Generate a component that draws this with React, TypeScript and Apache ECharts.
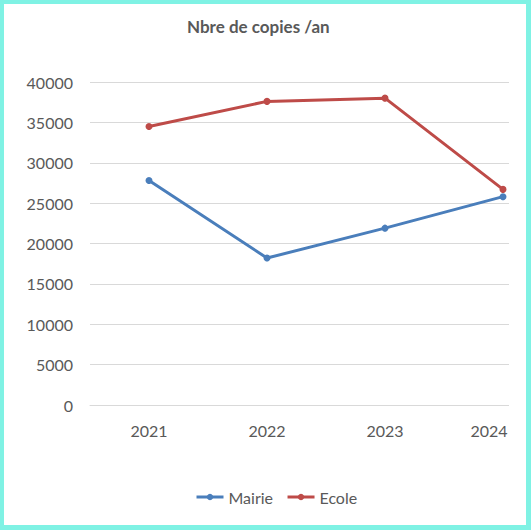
import React, { useEffect, useRef } from "react";
import * as echarts from "echarts";

const categories = ["2021", "2022", "2023", "2024"];
const mairie = [27800, 18200, 21900, 25800];
const ecole = [34500, 37600, 38000, 26700];
const yTicks = { min: 0, max: 40000, interval: 5000 };

const FONT = "Lato, 'Open Sans', sans-serif";
const TXT = "#595959";
const CYAN = "#7ff2e4";

export default function App() {
  const ref = useRef<HTMLDivElement>(null);
  useEffect(() => {
    const chart = echarts.init(ref.current!, null, { renderer: "svg" });
    chart.setOption({
      animation: false,
      backgroundColor: "#ffffff",
      title: {
        text: "Nbre de copies /an",
        left: 182,
        top: 13,
        textStyle: { fontFamily: FONT, fontSize: 17, fontWeight: "bold", color: TXT },
      },
      legend: {
        left: 190,
        top: 484,
        itemWidth: 27,
        itemHeight: 8,
        itemGap: 13,
        lineStyle: { width: 3 },
        textStyle: { fontFamily: FONT, fontSize: 16, color: TXT },
        data: ["Mairie", "Ecole"],
      },
      grid: {
        left: 90,
        top: 82,
        width: 472,
        height: 323,
        containLabel: false,
        outerBoundsMode: "none",
      },
      xAxis: {
        type: "category",
        boundaryGap: true,
        data: categories.map((c, i) =>
          i === categories.length - 1 ? { value: c, textStyle: { padding: [0, 28, 0, 0] } } : c
        ),
        axisLine: { show: true, lineStyle: { color: "#d9d9d9", width: 1 } },
        axisTick: { show: false },
        axisLabel: { fontFamily: FONT, fontSize: 16, color: TXT, margin: 17 },
      },
      yAxis: {
        type: "value",
        min: yTicks.min,
        max: yTicks.max,
        interval: yTicks.interval,
        axisLine: { show: false },
        axisTick: { show: false },
        splitLine: { lineStyle: { color: "#d9d9d9", width: 1 } },
        axisLabel: {
          fontFamily: FONT,
          fontSize: 16,
          color: TXT,
          margin: 17,
          formatter: (v: number) => String(v),
        },
      },
      series: [
        {
          name: "Mairie",
          type: "line",
          data: mairie,
          symbol: "circle",
          symbolSize: 7,
          itemStyle: { color: "#4a7ebb" },
          lineStyle: { color: "#4a7ebb", width: 3 },
        },
        {
          name: "Ecole",
          type: "line",
          data: ecole,
          symbol: "circle",
          symbolSize: 7,
          itemStyle: { color: "#be4b48" },
          lineStyle: { color: "#be4b48", width: 3 },
        },
      ],
      graphic: [
        { type: "rect", z: 100, shape: { x: 509, y: 60, width: 17, height: 360 }, style: { fill: "#ffffff" } },
        { type: "rect", z: 101, shape: { x: 0, y: 0, width: 531, height: 4 }, style: { fill: CYAN } },
        { type: "rect", z: 101, shape: { x: 0, y: 0, width: 4, height: 530 }, style: { fill: CYAN } },
        { type: "rect", z: 101, shape: { x: 526, y: 0, width: 5, height: 530 }, style: { fill: CYAN } },
        { type: "rect", z: 101, shape: { x: 0, y: 525, width: 531, height: 5 }, style: { fill: CYAN } },
      ],
    });
    return () => chart.dispose();
  }, []);
  return (
    <div
      ref={ref}
      style={{ position: "absolute", left: 0, top: 0, width: 531, height: 530 }}
    />
  );
}
